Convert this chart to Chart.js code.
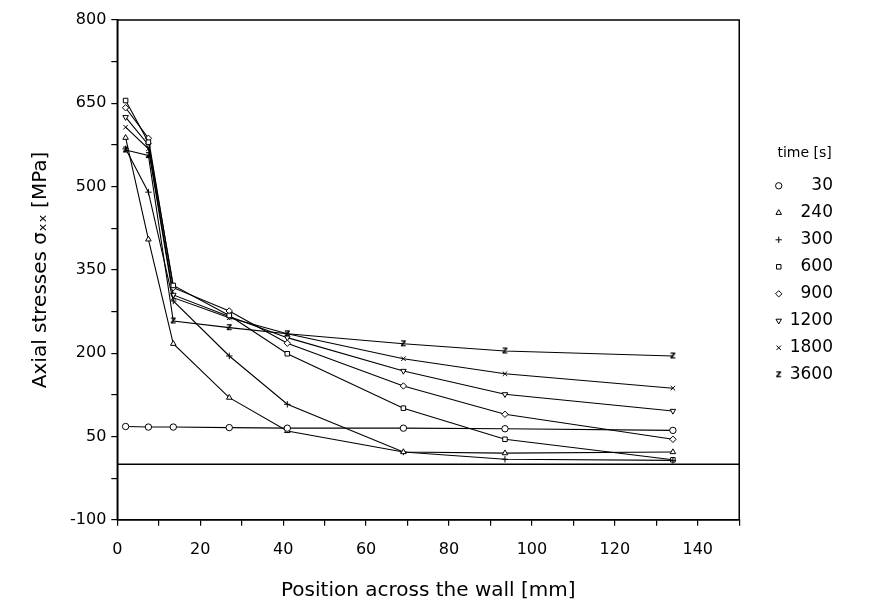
<!DOCTYPE html>
<html>
<head>
<meta charset="utf-8">
<script src="https://cdn.jsdelivr.net/npm/chart.js@4/dist/chart.umd.min.js"></script>
<style>
  body { margin: 0; background: #fff; }
</style>
</head>
<body>
<canvas id="tensiones" width="895" height="610"></canvas>
<script>
    // Positions across the wall [mm]
    const posiciones = [2, 7.5, 13.5, 27, 41, 69, 93.5, 134];

    // Times [s] shown in the legend
    const tiempos = ['30', '240', '300', '600', '900', '1200', '1800', '3600'];

    // Axial stresses [MPa] for every time
    const s30   = [68, 67, 67, 66, 65, 65, 64, 61];
    const s240  = [588, 405, 217, 120, 60, 22, 20, 22];
    const s300  = [568, 490, 294, 195, 108, 22, 9, 7];
    const s600  = [655, 580, 322, 268, 199, 101, 45, 8];
    const s900  = [642, 587, 318, 276, 218, 141, 90, 45];
    const s1200 = [625, 575, 305, 266, 228, 168, 126, 96];
    const s1800 = [607, 568, 300, 264, 235, 190, 163, 137];
    const s3600 = [566, 556, 258, 246, 235, 217, 204, 195];

    // Zero reference line
    const lineaCeroX = [0, 150];
    const lineaCeroY = [0, 0];

    const fuente = "'DejaVu Sans', sans-serif";

    // Marker 'z' for 3600 s (Chart.js has no such point style)
    function marcaZ() {
        const c = document.createElement('canvas');
        c.width = 9;
        c.height = 11;
        const g = c.getContext('2d');
        g.fillStyle = '#000';
        g.font = "bold 10px 'DejaVu Sans', sans-serif";
        g.textAlign = 'center';
        g.textBaseline = 'middle';
        g.fillText('z', 4.5, 5.5);
        return c;
    }

    const series = [s30, s240, s300, s600, s900, s1200, s1800, s3600];
    const estilos = ['circle', 'triangle', 'cross', 'rect', 'rectRot', 'triangle', 'crossRot', marcaZ()];
    const giros = [0, 0, 0, 0, 0, 180, 0, 0];

    const datasets = series.map(function (valores, i) {
        return {
            label: tiempos[i],
            data: valores.map(function (v, j) { return { x: posiciones[j], y: v }; }),
            borderColor: '#000',
            backgroundColor: '#fff',
            borderWidth: 1.1,
            pointStyle: estilos[i],
            rotation: giros[i],
            pointRadius: 3.2,
            pointBorderWidth: 1,
            pointBorderColor: '#000',
            pointBackgroundColor: '#fff'
        };
    });

    datasets.push({
        label: 'cero',
        data: lineaCeroX.map(function (x, j) { return { x: x, y: lineaCeroY[j] }; }),
        borderColor: '#000',
        borderWidth: 1.6,
        pointRadius: 0
    });

    // Box around the plotting area
    const marco = {
        id: 'marco',
        afterDraw: function (chart) {
            const a = chart.chartArea;
            const ctx = chart.ctx;
            ctx.save();
            ctx.strokeStyle = '#000';
            ctx.lineWidth = 1.5;
            ctx.strokeRect(a.left, a.top, a.right - a.left, a.bottom - a.top);
            ctx.restore();
        }
    };

    const opciones = {
        responsive: false,
        animation: false,
        layout: { padding: { top: 20, right: 52, left: 25, bottom: 3 } },
        plugins: {
            legend: {
                position: 'right',
                align: 'center',
                fullSize: false,
                title: {
                    display: true,
                    text: 'time [s]',
                    color: '#000',
                    font: { family: fuente, size: 14 },
                    padding: { top: 0, bottom: 4 }
                },
                labels: {
                    usePointStyle: true,
                    boxWidth: 5,
                    boxHeight: 4.5,
                    padding: 10,
                    color: '#000',
                    font: { family: fuente, size: 17 },
                    filter: function (item) { return item.text.trim() !== 'cero'; },
                    generateLabels: function (chart) {
                        return Chart.defaults.plugins.legend.labels.generateLabels(chart).map(function (item) {
                            item.text = item.text.padStart(4, '\u2007');
                            return item;
                        });
                    }
                }
            },
            tooltip: { enabled: false }
        },
        scales: {
            x: {
                type: 'linear',
                min: 0,
                max: 150,
                border: { color: '#000', width: 1.5 },
                grid: { drawOnChartArea: false, color: '#000', tickLength: 6, lineWidth: 1.2 },
                ticks: {
                    stepSize: 10,
                    autoSkip: false,
                    maxRotation: 0,
                    color: '#000',
                    font: { family: fuente, size: 16 },
                    padding: 14,
                    callback: function (v) { return v % 20 === 0 ? String(v) : ''; }
                },
                title: {
                    display: true,
                    text: 'Position across the wall [mm]',
                    color: '#000',
                    font: { family: fuente, size: 20 },
                    padding: { top: 6 }
                }
            },
            y: {
                min: -100,
                max: 800,
                border: { color: '#000', width: 1.5 },
                grid: { drawOnChartArea: false, color: '#000', tickLength: 6, lineWidth: 1.2 },
                ticks: {
                    stepSize: 75,
                    autoSkip: false,
                    color: '#000',
                    font: { family: fuente, size: 16 },
                    padding: 5,
                    callback: function (v) { return (v + 100) % 150 === 0 ? String(v) : ''; }
                },
                title: {
                    display: true,
                    text: 'Axial stresses σₓₓ [MPa]',
                    color: '#000',
                    font: { family: fuente, size: 20 },
                    padding: { bottom: 12 }
                }
            },
            // empty gap between the plot and the legend
            hueco: {
                type: 'linear',
                position: 'right',
                grid: { display: false },
                border: { display: false },
                ticks: { display: false },
                afterFit: function (escala) { escala.width = 27; }
            }
        }
    };

    // Represento la gráfica
    const grafica = new Chart(document.getElementById('tensiones'), {
        type: 'line',
        data: { datasets: datasets },
        options: opciones,
        plugins: [marco]
    });
</script>
</body>
</html>
